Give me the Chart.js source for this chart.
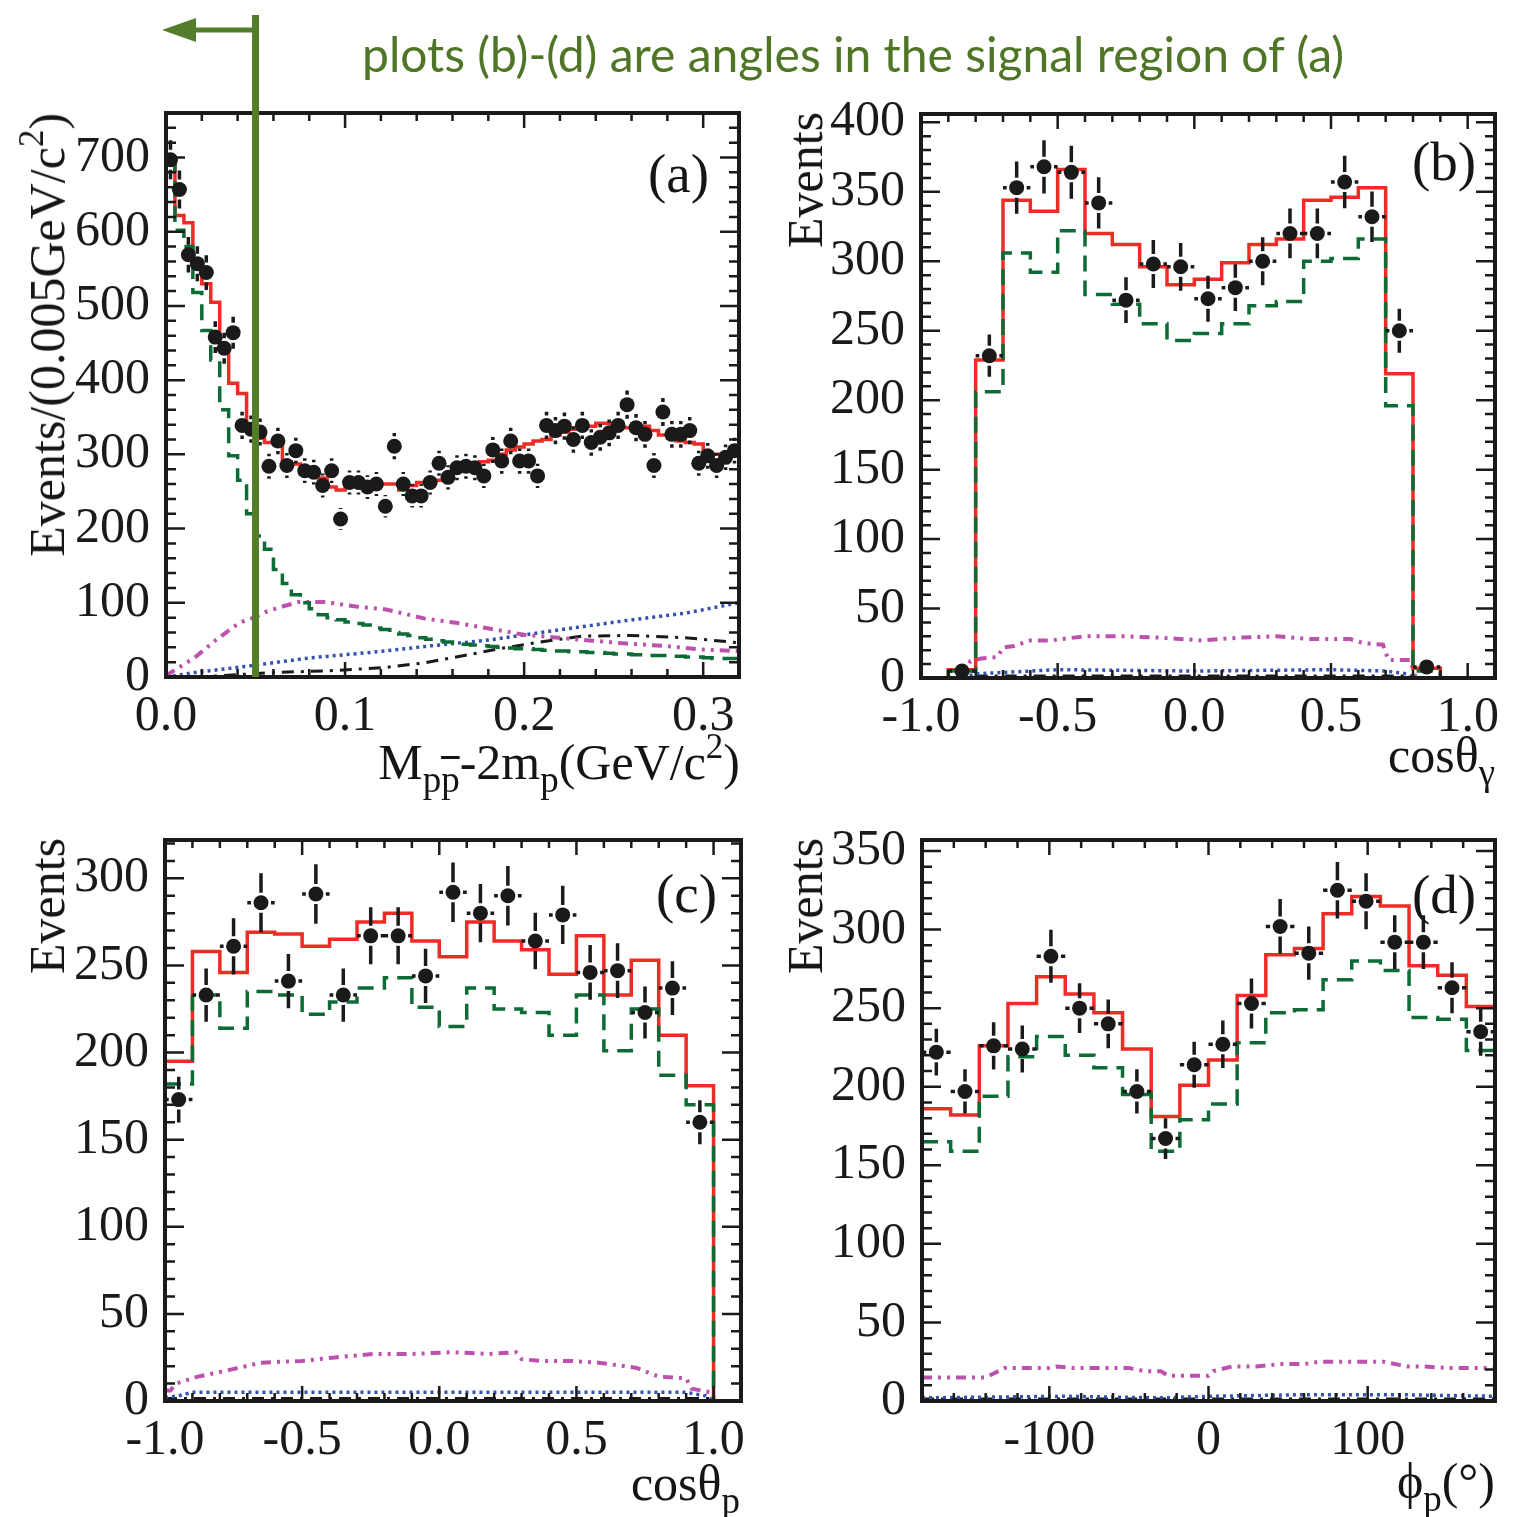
<!DOCTYPE html>
<html>
<head>
<meta charset="utf-8">
<title>M(pp) - 2mp and angular distributions</title>
<script src="https://cdn.jsdelivr.net/npm/chart.js@4.4.1/dist/chart.umd.min.js"></script>
<style>
  html, body { margin: 0; padding: 0; background: #fff; }
  #page { position: relative; width: 1518px; height: 1517px; overflow: hidden; background: #fff; }
  #page canvas { position: absolute; left: 0; top: 0; }
  .lbl { position: absolute; white-space: nowrap; font-family: "Liberation Serif", "Times New Roman", serif;
         font-size: 50px; line-height: 50px; color: #151515; }
  .lbl sub { font-size: 0.74em; line-height: 0; vertical-align: -0.34em; }
  .lbl sup { font-size: 0.7em; line-height: 0; vertical-align: 0.6em; }
  .ov { text-decoration: overline; }
  .ytitle { transform-origin: 0 0; transform: rotate(-90deg) translate(-100%, -50%); }
  .xtitle { transform: translateX(-100%); }
  .tag { font-size: 55px; line-height: 55px; }
  #header { position: absolute; left: 362px; top: 30px; font-family: Lato, "Open Sans", sans-serif;
            font-size: 48px; line-height: 48px; color: #4f7626; white-space: nowrap; }
</style>
</head>
<body>
<div id="page">
  <canvas id="chartA" width="1518" height="1517"></canvas>
  <canvas id="chartB" width="1518" height="1517"></canvas>
  <canvas id="chartC" width="1518" height="1517"></canvas>
  <canvas id="chartD" width="1518" height="1517"></canvas>

  <div id="header">plots (b)-(d) are angles in the signal region of (a)</div>

  <div class="lbl ytitle" style="left:47px;top:113px">Events/(0.005GeV/c<sup>2</sup>)</div>
  <div class="lbl xtitle" style="left:740px;top:737px">M<sub>p<span class="ov">p</span></sub>-2m<sub>p</sub>(GeV/c<sup>2</sup>)</div>
  <div class="lbl tag" style="left:648px;top:146px">(a)</div>

  <div class="lbl ytitle" style="left:805px;top:112px">Events</div>
  <div class="lbl xtitle" style="left:1495px;top:730px">cosθ<sub>γ</sub></div>
  <div class="lbl tag" style="left:1412px;top:134px">(b)</div>

  <div class="lbl ytitle" style="left:47px;top:838px">Events</div>
  <div class="lbl xtitle" style="left:740px;top:1458px">cosθ<sub>p</sub></div>
  <div class="lbl tag" style="left:656px;top:866px">(c)</div>

  <div class="lbl ytitle" style="left:805px;top:838px">Events</div>
  <div class="lbl xtitle" style="left:1495px;top:1456px">ϕ<sub>p</sub>(°)</div>
  <div class="lbl tag" style="left:1412px;top:867px">(d)</div>
</div>

<script>
// ---------- panel (a): M(pp) - 2m_p, 0.005 GeV/c^2 bins ----------
const aLow = 0, aBin = 0.005;
const aCounts = [697, 657, 569, 557, 545, 458, 443, 464, 339, 334,
                 330, 284, 318, 285, 305, 278, 276, 258, 278, 213,
                 262, 262, 256, 260, 230, 311, 260, 244, 244, 262,
                 288, 269, 282, 284, 282, 271, 306, 291, 318, 291,
                 291, 271, 339, 332, 338, 320, 339, 316, 323, 329,
                 339, 367, 336, 327, 285, 357, 327, 327, 332, 288,
                 298, 285, 296, 305];
const aFit = [696, 622, 612, 555, 530, 505, 440, 396, 382, 340,
              322, 316, 314, 290, 287, 274, 272, 268, 256, 252,
              258, 260, 256, 258, 260, 260, 252, 258, 262, 264,
              265, 272, 284, 288, 288, 290, 292, 300, 306, 310,
              314, 318, 320, 326, 330, 334, 336, 338, 342, 342,
              340, 336, 336, 338, 332, 326, 322, 318, 316, 314,
              300, 300, 298, 302];
const aBkg = [690, 602, 580, 518, 467, 427, 360, 298, 265, 220,
              190, 172, 145, 126, 111, 100, 92, 84, 80, 77,
              74, 72, 70, 66, 64, 60, 58, 56, 53, 51,
              49, 47, 46, 44, 43, 42, 41, 40, 39, 38,
              38, 37, 36, 35, 35, 34, 34, 33, 33, 32,
              31, 31, 30, 30, 29, 29, 28, 28, 27, 27,
              26, 25, 25, 25];
const aMagentaX = [0, 0.016, 0.028, 0.041, 0.049, 0.056, 0.065, 0.074, 0.089, 0.106, 0.123,
                   0.144, 0.162, 0.181, 0.2, 0.219, 0.238, 0.257, 0.278, 0.299, 0.32];
const aMagentaY = [2, 26, 50, 73, 80, 88, 95, 101, 101, 95, 91, 79, 73, 65, 57, 53, 49, 45, 42, 37, 35];
const aBlueX = [0, 0.016, 0.047, 0.081, 0.114, 0.148, 0.181, 0.215, 0.257, 0.29, 0.32];
const aBlueY = [0, 6, 15, 26, 33, 42, 50, 62, 76, 86, 100];
const aBlackX = [0, 0.018, 0.06, 0.097, 0.123, 0.144, 0.169, 0.186, 0.206, 0.232, 0.259, 0.29, 0.32];
const aBlackY = [0, 0, 6, 9, 13, 19, 30, 38, 46, 55, 56, 53, 46];
const aCut = 0.05;

// ---------- panel (b): cos(theta_gamma), 0.1 bins ----------
const bLow = -1.0, bBin = 0.1;
const bFit = [0, 6, 229, 344, 336, 366, 320, 312, 296, 283, 287,
              299, 312, 316, 344, 346, 353, 219, 7, 0, 0];
const bBkg = [0, 5, 206, 306, 292, 322, 276, 269, 255, 243, 248,
              255, 268, 271, 300, 302, 316, 196, 5, 0, 0];
const bPointLow = -0.9;
const bCounts = [5, 232, 353, 368, 364, 342, 272, 298, 296, 273, 281, 300, 320, 320, 357, 332, 250, 8];
const bMagentaX = [-1.0, -0.84, -0.82, -0.78, -0.72, -0.7, -0.66, -0.6, -0.53, -0.4, -0.26, -0.12,
                   0.03, 0.16, 0.3, 0.43, 0.57, 0.62, 0.69, 0.71, 0.79, 0.81, 1.1];
const bMagentaY = [0, 0, 12, 14, 15, 22, 23, 27, 27, 30, 30, 29, 27, 29, 30, 28, 28, 25, 24, 13, 13, 0, 0];
const bBlueX = [-1.0, -0.85, -0.8, -0.7, -0.5, 0, 0.5, 0.7, 0.78, 0.8, 1.1];
const bBlueY = [0, 0, 3, 4, 6, 5, 6, 5, 3, 0, 0];
const bBlackX = [-0.8, 0.8];
const bBlackY = [1.5, 1.5];

// ---------- panel (c): cos(theta_p), 0.1 bins ----------
const cLow = -1.0, cBin = 0.1;
const cFit = [195, 258, 246, 269, 268, 261, 265, 275, 280, 264, 255,
              275, 264, 259, 245, 267, 233, 253, 210, 181, 0];
const cBkg = [182, 233, 214, 235, 233, 222, 229, 237, 243, 226, 215,
              237, 225, 223, 210, 233, 201, 225, 187, 170, 0];
const cPointLow = -1.0;
const cCounts = [173, 233, 261, 286, 241, 291, 233, 267, 267, 244,
                 292, 280, 290, 264, 279, 246, 247, 223, 237, 160];
const cMagentaX = [-1.0, -0.98, -0.96, -0.88, -0.76, -0.65, -0.5, -0.38, -0.24, -0.1, 0.04, 0.18,
                   0.28, 0.3, 0.37, 0.48, 0.58, 0.72, 0.8, 0.9, 0.92, 0.99, 1.0, 1.1];
const cMagentaY = [6, 6, 10, 14, 18, 22, 23, 25, 27, 27, 28, 27, 28, 24, 23, 23, 22, 19, 14, 13, 7, 5, 0, 0];
const cBlueX = [-1.0, -0.95, -0.9, 0, 0.9, 0.97, 1.0, 1.1];
const cBlueY = [2, 3, 5, 5, 5, 3, 0, 0];
const cBlackX = [-1.0, 1.0];
const cBlackY = [1.5, 1.5];

// ---------- panel (d): phi_p in degrees, 18 deg bins ----------
const dLow = -180, dBin = 18;
const dFit = [186, 182, 226, 253, 270, 259, 247, 224, 181, 201,
              217, 258, 284, 288, 310, 321, 315, 277, 271, 251];
const dBkg = [165, 159, 194, 219, 232, 220, 212, 195, 159, 179,
              189, 228, 247, 249, 268, 280, 274, 244, 243, 223];
const dPointLow = -180;
const dCounts = [222, 197, 226, 224, 283, 250, 240, 197, 167, 214,
                 227, 253, 302, 285, 325, 318, 292, 292, 263, 235];
const dMagentaX = [-180, -140, -128, -115, -100, -95, -85, -60, -50, -40, -30, -25, 0, 3,
                   15, 30, 45, 60, 70, 95, 110, 125, 135, 150, 180];
const dMagentaY = [15, 15, 21, 21, 21, 22, 21, 21, 21, 19, 19, 16, 16, 19,
                   22, 22, 23.5, 23.5, 25, 25, 25, 22, 22, 21, 21];
const dBlueX = [-180, -90, -30, 0, 60, 120, 180];
const dBlueY = [2, 3, 2, 3, 4, 4, 3];
const dBlackX = [-180, 180];
const dBlackY = [1.2, 1.2];

// ---------- helpers ----------
const PAGE_W = 1518, PAGE_H = 1517, Y_W = 150, X_H = 80;
const INK = '#1a1a1a';

Chart.defaults.font.family = '"Liberation Serif", "Times New Roman", serif';
Chart.defaults.color = INK;
Chart.defaults.animation = false;

function histPoints(lo, width, values) {
  const pts = values.map((v, i) => ({ x: lo + i * width, y: v }));
  pts.push({ x: lo + values.length * width, y: values[values.length - 1] });
  return pts;
}
function binCentres(lo, width, values) {
  return values.map((v, i) => ({ x: lo + (i + 0.5) * width, y: v }));
}
function xy(xs, ys) {
  return xs.map((x, i) => ({ x: x, y: ys[i] }));
}

// poisson error bars drawn just before the marker dataset, with a gap round the marker
const errorBars = {
  id: 'errorBars',
  beforeDatasetDraw(chart, args) {
    const ds = chart.data.datasets[args.index];
    if (!ds.errorBars) return;
    const ctx = chart.ctx, xs = chart.scales.x, ys = chart.scales.y;
    const gap = ds.pointRadius + 2.5;
    ctx.save();
    ctx.strokeStyle = INK;
    ctx.lineWidth = 3.5;
    ctx.beginPath();
    ds.data.forEach(p => {
      const px = xs.getPixelForValue(p.x), py = ys.getPixelForValue(p.y);
      const err = Math.sqrt(p.y);
      const top = ys.getPixelForValue(p.y + err), bot = ys.getPixelForValue(Math.max(p.y - err, 0));
      if (py - top > gap) { ctx.moveTo(px, py - gap); ctx.lineTo(px, top); }
      if (bot - py > gap) { ctx.moveTo(px, py + gap); ctx.lineTo(px, bot); }
      const left = xs.getPixelForValue(p.x - ds.halfBin), right = xs.getPixelForValue(p.x + ds.halfBin);
      if (px - left > gap) {
        ctx.moveTo(left, py); ctx.lineTo(px - gap, py);
        ctx.moveTo(px + gap, py); ctx.lineTo(right, py);
      }
    });
    ctx.stroke();
    ctx.restore();
  }
};

// ROOT style frame with inward ticks on all four sides
const rootFrame = {
  id: 'rootFrame',
  afterDatasetsDraw(chart, args, o) {
    const ctx = chart.ctx, a = chart.chartArea, x = chart.scales.x, y = chart.scales.y;
    const walk = (scale, minor, major, cb) => {
      const start = Math.ceil(scale.min / minor - 1e-6);
      for (let k = start; k * minor <= scale.max + 1e-9; k++) {
        const v = k * minor;
        const big = Math.abs(v / major - Math.round(v / major)) < 1e-6;
        cb(scale.getPixelForValue(v), big);
      }
    };
    ctx.save();
    ctx.strokeStyle = INK;
    ctx.lineWidth = 2.5;
    ctx.beginPath();
    walk(x, o.xMinor, o.xMajor, (px, big) => {
      const len = big ? 15 : 8;
      ctx.moveTo(px, a.bottom); ctx.lineTo(px, a.bottom - len);
      ctx.moveTo(px, a.top); ctx.lineTo(px, a.top + len);
    });
    walk(y, o.yMinor, o.yMajor, (py, big) => {
      const len = big ? 19 : 10;
      ctx.moveTo(a.left, py); ctx.lineTo(a.left + len, py);
      ctx.moveTo(a.right, py); ctx.lineTo(a.right - len, py);
    });
    ctx.stroke();
    ctx.lineWidth = 4;
    ctx.strokeRect(a.left, a.top, a.right - a.left, a.bottom - a.top);
    ctx.restore();
  }
};

// green signal-region marker of panel (a)
const cutMarker = {
  id: 'cutMarker',
  afterDraw(chart) {
    const ctx = chart.ctx, a = chart.chartArea;
    const px = chart.scales.x.getPixelForValue(aCut);
    const arrowY = a.top - 83;
    ctx.save();
    ctx.strokeStyle = '#537d2a';
    ctx.fillStyle = '#537d2a';
    ctx.lineWidth = 7;
    ctx.beginPath();
    ctx.moveTo(px, a.top - 98);
    ctx.lineTo(px, a.bottom);
    ctx.stroke();
    ctx.lineWidth = 5;
    ctx.beginPath();
    ctx.moveTo(px, arrowY);
    ctx.lineTo(a.left + 25, arrowY);
    ctx.stroke();
    ctx.beginPath();
    ctx.moveTo(a.left - 4, arrowY);
    ctx.lineTo(a.left + 30, arrowY - 12);
    ctx.lineTo(a.left + 30, arrowY + 12);
    ctx.closePath();
    ctx.fill();
    ctx.restore();
  }
};

function buildPanel(id, p) {
  const datasets = [
    { data: p.points, showLine: false, pointRadius: 7.5, pointHoverRadius: 7.5,
      pointBackgroundColor: INK, pointBorderWidth: 0, errorBars: true, halfBin: p.halfBin, order: 0 },
    { data: p.bkg, stepped: true, borderColor: '#0d6b35', borderWidth: 3.5, borderDash: [16, 9],
      pointRadius: 0, order: 1 },
    { data: p.fit, stepped: true, borderColor: '#ef2b25', borderWidth: 3.5, pointRadius: 0, order: 2 },
    { data: p.magenta, borderColor: '#bc52ae', borderWidth: 4, borderDash: [10, 6, 3, 6, 3, 6],
      pointRadius: 0, tension: 0, order: 3 },
    { data: p.blue, borderColor: '#3452ad', borderWidth: 3.5, borderDash: [3, 4],
      pointRadius: 0, tension: 0, order: 4 },
    { data: p.black, borderColor: INK, borderWidth: 3, borderDash: [12, 7, 3, 7],
      pointRadius: 0, tension: 0, order: 5 }
  ];
  const f = p.frame;
  const tickFont = { size: 50, family: '"Liberation Serif", "Times New Roman", serif' };
  return new Chart(document.getElementById(id), {
    type: 'line',
    data: { datasets: datasets },
    plugins: p.extra ? [errorBars, rootFrame, p.extra] : [errorBars, rootFrame],
    options: {
      responsive: false,
      animation: false,
      events: [],
      layout: { padding: { left: f.left - Y_W, top: f.top, right: PAGE_W - f.right, bottom: PAGE_H - f.bottom - X_H } },
      plugins: {
        legend: { display: false },
        tooltip: { enabled: false },
        rootFrame: { xMajor: p.xStep, xMinor: p.xMinor, yMajor: p.yStep, yMinor: p.yMinor }
      },
      scales: {
        x: {
          type: 'linear', min: p.xRange[0], max: p.xRange[1],
          grid: { display: false }, border: { display: false },
          ticks: { stepSize: p.xStep, includeBounds: false, autoSkip: false, maxRotation: 0,
                   padding: 2, color: INK, font: tickFont, callback: p.xFmt },
          afterFit: s => { s.height = X_H; }
        },
        y: {
          type: 'linear', min: p.yRange[0], max: p.yRange[1],
          grid: { display: false }, border: { display: false },
          ticks: { stepSize: p.yStep, includeBounds: false, autoSkip: false,
                   padding: 8, color: INK, font: tickFont, callback: v => String(v) },
          afterFit: s => { s.width = Y_W; }
        }
      }
    }
  });
}

const oneDecimal = v => v.toFixed(1);

buildPanel('chartA', {
  frame: { left: 166, top: 113, right: 739, bottom: 677 },
  xRange: [0, 0.32], yRange: [0, 760], xStep: 0.1, xMinor: 0.02, yStep: 100, yMinor: 20,
  xFmt: oneDecimal, halfBin: aBin / 2,
  points: binCentres(aLow, aBin, aCounts),
  fit: histPoints(aLow, aBin, aFit),
  bkg: histPoints(aLow, aBin, aBkg),
  magenta: xy(aMagentaX, aMagentaY),
  blue: xy(aBlueX, aBlueY),
  black: xy(aBlackX, aBlackY),
  extra: cutMarker
});

buildPanel('chartB', {
  frame: { left: 921, top: 114, right: 1495, bottom: 678 },
  xRange: [-1.0, 1.1], yRange: [0, 406], xStep: 0.5, xMinor: 0.1, yStep: 50, yMinor: 10,
  xFmt: oneDecimal, halfBin: bBin / 2,
  points: binCentres(bPointLow, bBin, bCounts),
  fit: histPoints(bLow, bBin, bFit),
  bkg: histPoints(bLow, bBin, bBkg),
  magenta: xy(bMagentaX, bMagentaY),
  blue: xy(bBlueX, bBlueY),
  black: xy(bBlackX, bBlackY)
});

buildPanel('chartC', {
  frame: { left: 165, top: 840, right: 741, bottom: 1401 },
  xRange: [-1.0, 1.1], yRange: [0, 322], xStep: 0.5, xMinor: 0.1, yStep: 50, yMinor: 10,
  xFmt: oneDecimal, halfBin: cBin / 2,
  points: binCentres(cPointLow, cBin, cCounts),
  fit: histPoints(cLow, cBin, cFit),
  bkg: histPoints(cLow, cBin, cBkg),
  magenta: xy(cMagentaX, cMagentaY),
  blue: xy(cBlueX, cBlueY),
  black: xy(cBlackX, cBlackY)
});

buildPanel('chartD', {
  frame: { left: 922, top: 840, right: 1495, bottom: 1401 },
  xRange: [-180, 180], yRange: [0, 357], xStep: 100, xMinor: 20, yStep: 50, yMinor: 10,
  xFmt: v => String(Math.round(v)), halfBin: dBin / 2,
  points: binCentres(dPointLow, dBin, dCounts),
  fit: histPoints(dLow, dBin, dFit),
  bkg: histPoints(dLow, dBin, dBkg),
  magenta: xy(dMagentaX, dMagentaY),
  blue: xy(dBlueX, dBlueY),
  black: xy(dBlackX, dBlackY)
});
</script>
</body>
</html>
